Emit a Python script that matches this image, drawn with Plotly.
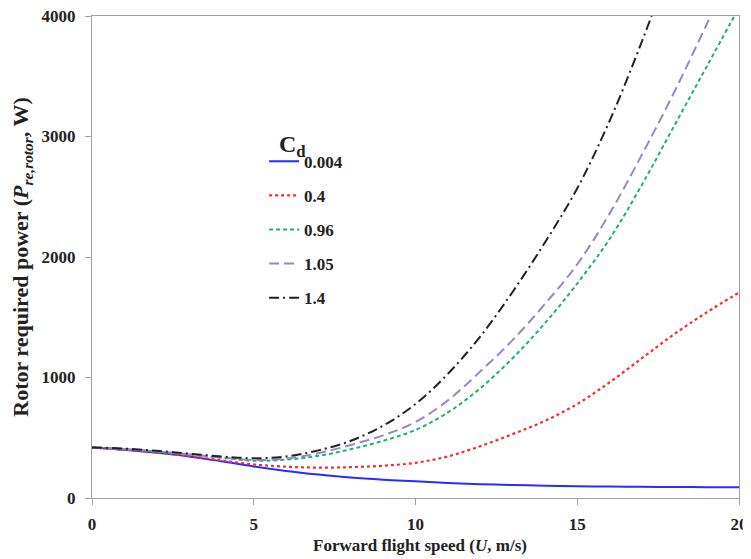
import plotly.graph_objects as go

speed = list(range(0, 21))
cd_labels = ["0.004", "0.4", "0.96", "1.05", "1.4"]
p_0004 = [420, 400, 375, 345, 305, 262, 225, 195, 170, 152, 138, 125, 115, 108, 102, 98, 95, 93, 91, 90, 89]
p_04 = [420, 402, 378, 348, 312, 278, 260, 252, 256, 268, 292, 345, 430, 530, 640, 780, 960, 1160, 1360, 1540, 1705]
p_096 = [420, 405, 385, 360, 334, 310, 318, 350, 405, 475, 565, 710, 910, 1160, 1450, 1780, 2150, 2600, 3090, 3580, 4070]
p_105 = [420, 406, 387, 362, 337, 315, 328, 372, 440, 520, 630, 810, 1050, 1310, 1610, 1940, 2360, 2850, 3370, 3930, 4500]
p_14 = [420, 410, 392, 368, 345, 330, 345, 395, 475, 600, 780, 1030, 1340, 1710, 2120, 2570, 3130, 3790, 4520, 5300, 6200]

series = [p_0004, p_04, p_096, p_105, p_14]
colors = ["#2b2bff", "#ff2a2a", "#22b070", "#9a86c6", "#222222"]
dashes = ["solid", "dot", "4px,3px", "10px,5px", "10px,4px,2px,4px"]
widths = [2, 2.2, 2, 2, 2]

font_family = "Liberation Serif, Times New Roman, serif"
txt = "#222"

fig = go.Figure()
for i, (lab, ys) in enumerate(zip(cd_labels, series)):
    fig.add_trace(go.Scatter(
        x=speed, y=ys, mode="lines", name=lab, legendgroup=lab,
        line=dict(color=colors[i], dash=dashes[i], width=widths[i], shape="spline", smoothing=1.0),
    ))

axis_common = dict(
    showgrid=False, zeroline=False, showline=True, linecolor="#a0a0a0", linewidth=1.3,
    mirror=True, ticks="outside", ticklen=6, tickcolor="#a0a0a0", automargin=False,
    ticklabeloverflow="allow",
    tickfont=dict(family=font_family, size=17, color=txt, weight="bold"),
)

fig.update_layout(
    width=751, height=559,
    margin=dict(l=84, r=20, t=8, b=69),
    paper_bgcolor="white", plot_bgcolor="white",
    font=dict(family=font_family, color=txt),
    xaxis=dict(range=[0, 20], tickvals=[0, 5, 10, 15, 20], ticklabelstandoff=4, **axis_common),
    yaxis=dict(range=[0, 4000], tickvals=[0, 1000, 2000, 3000, 4000], ticklabelstandoff=6,
               title=dict(text="Rotor required power (<i>P</i><sub><i>re,rotor</i></sub>, W)", standoff=10,
                          font=dict(family=font_family, size=22, color=txt, weight="bold")),
               **axis_common),
    legend=dict(
        x=0.266, y=0.735, xanchor="left", yanchor="top",
        bgcolor="rgba(0,0,0,0)", traceorder="grouped", tracegroupgap=9,
        font=dict(family=font_family, size=17, color=txt, weight="bold"),
        itemwidth=30,
    ),
    showlegend=True,
)

fig.add_annotation(
    text="C<sub>d</sub>", xref="paper", yref="paper", x=0.31, y=(498 - 146) / 482,
    xanchor="center", yanchor="middle", showarrow=False,
    font=dict(family=font_family, size=24, color=txt, weight="bold"),
)
fig.add_annotation(
    text="Forward flight speed (<i>U</i>, m/s)",
    xref="paper", yref="paper", x=(420 - 92) / 647, y=-(545 - 498) / 482,
    xanchor="center", yanchor="middle", showarrow=False,
    font=dict(family=font_family, size=17, color=txt, weight="bold"),
)

fig.write_html("out.html")
